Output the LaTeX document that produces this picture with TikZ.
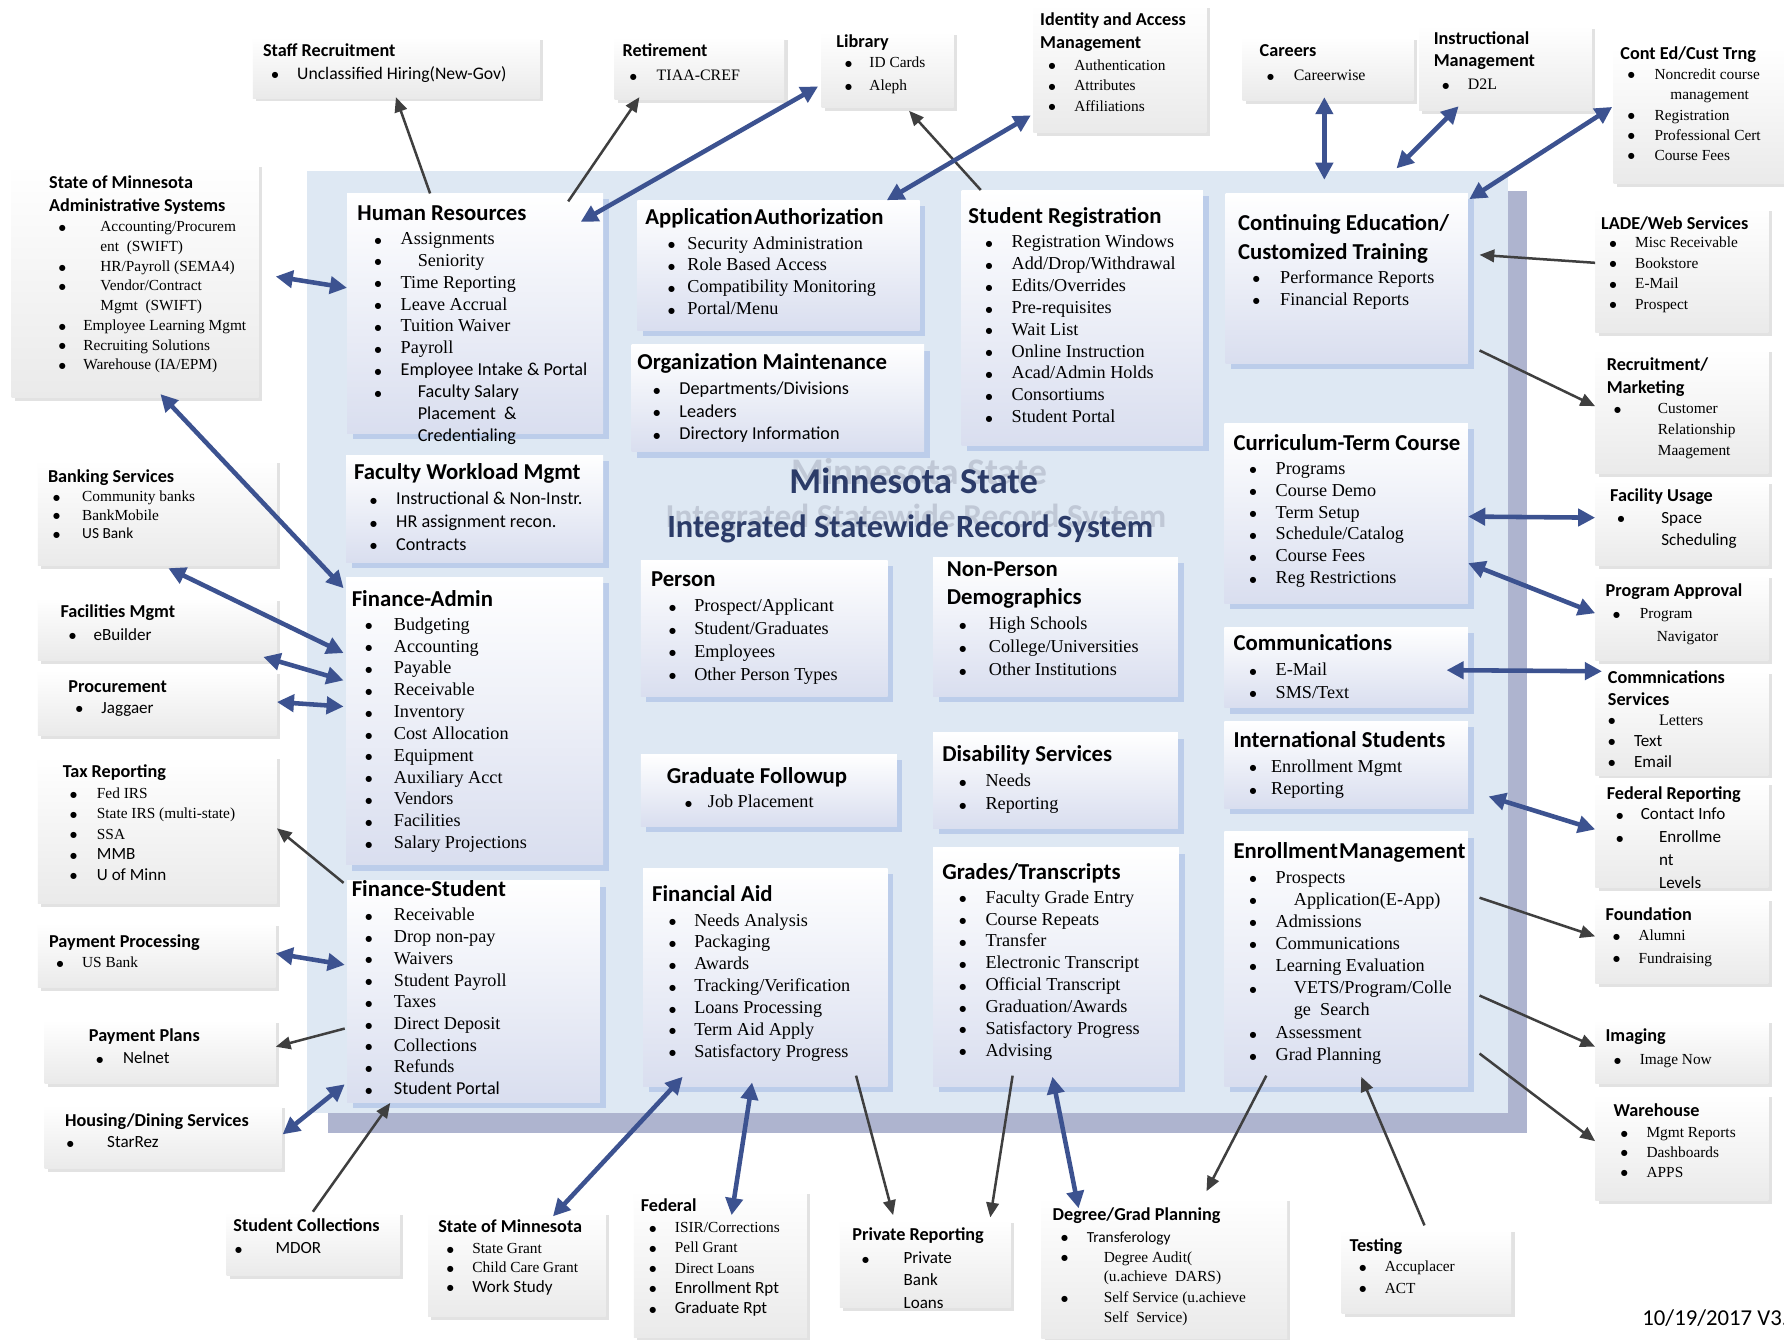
\documentclass[tikz,border=0pt]{standalone}
\usepackage{fontspec}
\setmainfont{Liberation Serif}
\newfontfamily\cbr{Carlito}
\newfontfamily\djv{DejaVu Sans}
\usetikzlibrary{arrows.meta,positioning}
\definecolor{panelblue}{HTML}{DEE8F3}
\definecolor{panelshade}{HTML}{AEB4CF}
\definecolor{boxlav}{HTML}{D9DEEF}
\definecolor{boxshade}{HTML}{BCCDEA}
\definecolor{boxgray}{HTML}{EAEAEA}
\definecolor{grayshade}{HTML}{E2E2E2}
\definecolor{arrnavy}{HTML}{3C5290}
\definecolor{arrgray}{HTML}{3F3F3F}
\definecolor{titlenavy}{HTML}{2B3B68}
\definecolor{titleshade}{HTML}{A3AABA}
\newlength{\bind}\newlength{\btxt}
\newcommand{\bul}[2]{\setlength{\bind}{#1pt}\setlength{\btxt}{#2pt}}
\newcommand{\bdot}{\raisebox{1.2pt}{\djv\fontsize{7}{7}\selectfont ●}}
\newcommand{\blk}[5]{\parbox[t][#2pt][t]{#1pt}{\leftskip=#3pt\rule{0pt}{#4pt}#5}}
\newcommand{\ititle}[1]{{\cbr\bfseries\fontsize{20}{25}\selectfont #1\par}\vspace{2pt}}
\newcommand{\otitle}[2][1]{{\cbr\bfseries\fontsize{16}{20}\selectfont #2\par}\vspace{#1pt}}
\newcommand{\itm}[2][0]{\par\noindent\hspace*{\bind}\makebox[\btxt][l]{\bdot}\hspace*{#1pt}\begin{tabular}[t]{@{}l@{}}#2\end{tabular}\par}
\newcommand{\citm}[2][0]{\par\noindent\hspace*{\bind}\makebox[\btxt][l]{\bdot}\hspace*{#1pt}{\cbr\begin{tabular}[t]{@{}l@{}}#2\end{tabular}}\par}

\begin{document}
\begin{tikzpicture}[x=1pt, y=-1pt,
    ibox/.style={anchor=north west, inner sep=0pt, top color=white, bottom color=boxlav,
      font=\fontsize{16}{19.2}\selectfont,
      preaction={fill=boxshade, transform canvas={shift={(5pt,-5pt)}}}},
    obox/.style={anchor=north west, inner sep=0pt, top color=white, bottom color=boxgray,
      font=\fontsize{14}{18}\selectfont,
      preaction={fill=grayshade, transform canvas={shift={(3pt,-3pt)}}}},
    ga/.style={draw=arrgray, line width=2.2pt, -{Triangle[length=13pt,width=11pt]}},
    na/.style={draw=arrnavy, line width=4pt, {Triangle[length=15pt,width=15pt]}-{Triangle[length=15pt,width=15pt]}}]
    \fill[white] (0,0) rectangle (1568,1177);
    \useasboundingbox (0,0) rectangle (1568,1177);
    \fill[panelshade] (288,168) rectangle (1342,996);
    \fill[panelblue] (270,150) rectangle (1325,978);

    \node[text=titleshade, opacity=.5, scale=1.03, font=\cbr\bfseries\fontsize{32}{36}\selectfont] (titel1s) at (808,414) {Minnesota State};
    \node[text=titleshade, opacity=.5, scale=1.03, font=\cbr\bfseries\fontsize{28.5}{32}\selectfont] (titel2s) at (805,456) {Integrated Statewide Record System};
    \node[text=titlenavy, font=\cbr\bfseries\fontsize{32}{36}\selectfont] (titel1) at (803,423) {Minnesota State};
    \node[text=titlenavy, font=\cbr\bfseries\fontsize{28.5}{32}\selectfont] (titel2) at (800,465) {Integrated Statewide Record System};

    \node[ibox] (hr) at (305,170) {\blk{225}{211}{9}{23.5}{\bul{15}{23}\ititle{Human Resources}\itm{Assignments}\itm[15]{Seniority}\itm{Time Reporting}\itm{Leave Accrual}\itm{Tuition Waiver}\itm{Payroll}\citm{Employee Intake \& Portal}\citm[15]{Faculty Salary\\Placement~ \&\\Credentialing}}};
    \node[ibox] (appauth) at (560,176) {\blk{248}{114}{7}{21.5}{\bul{20}{17}\ititle{Application\hspace{1pt}Authorization}\itm{Security Administration}\itm{Role Based Access}\itm{Compatibility Monitoring}\itm{Portal/Menu}}};
    \node[ibox] (stureg) at (845,167) {\blk{212}{224}{6}{29.5}{\bul{15}{23}\ititle{Student Registration}\itm{Registration Windows}\itm{Add/Drop/Withdrawal}\itm{Edits/Overrides}\itm{Pre-requisites}\itm{Wait List}\itm{Online Instruction}\itm{Acad/Admin Holds}\itm{Consortiums}\itm{Student Portal}}};
    \node[ibox] (conted) at (1077,170) {\blk{213}{149}{11}{32.5}{\bul{13}{24}\ititle{Continuing Education/\\Customized Training}\itm{Performance Reports}\itm{Financial Reports}}};
    \node[ibox, font=\fontsize{16}{20}\selectfont] (orgmaint) at (555,303) {\blk{257}{94}{5}{21.5}{\bul{14}{23}\ititle{Organization Maintenance}\citm{Departments/Divisions}\citm{Leaders}\citm{Directory Information}}};
    \node[ibox, font=\fontsize{16}{20}\selectfont] (fwm) at (304,400) {\blk{226}{94}{7}{21.5}{\bul{14}{23}\ititle{Faculty Workload Mgmt}\citm{Instructional \& Non-Instr.}\citm{HR assignment recon.}\citm{Contracts}}};
    \node[ibox] (curr) at (1076,372) {\blk{214}{158}{8}{23.5}{\bul{14}{23}\ititle{Curriculum-Term Course}\itm{Programs}\itm{Course Demo}\itm{Term Setup}\itm{Schedule/Catalog}\itm{Course Fees}\itm{Reg Restrictions}}};
    \node[ibox, font=\fontsize{16}{20}\selectfont] (person) at (563,492) {\blk{217}{120}{9}{23.5}{\bul{16}{22}\ititle{Person}\itm{Prospect/Applicant}\itm{Student/Graduates}\itm{Employees}\itm{Other Person Types}}};
    \node[ibox, font=\fontsize{16}{20}\selectfont] (nonperson) at (820,490) {\blk{215}{122}{12}{16.5}{\bul{11}{26}\ititle{Non-Person\\Demographics}\itm{High Schools}\itm{College/Universities}\itm{Other Institutions}}};
    \node[ibox] (finadmin) at (304,507) {\blk{226}{253}{5}{25.5}{\bul{12}{25}\ititle{Finance-Admin}\itm{Budgeting}\itm{Accounting}\itm{Payable}\itm{Receivable}\itm{Inventory}\itm{Cost Allocation}\itm{Equipment}\itm{Auxiliary Acct}\itm{Vendors}\itm{Facilities}\itm{Salary Projections}}};
    \node[ibox, font=\fontsize{16}{20}\selectfont] (comm) at (1076,551) {\blk{214}{71}{8}{20.5}{\bul{14}{23}\ititle{Communications}\itm{E-Mail}\itm{SMS/Text}}};
    \node[ibox, font=\fontsize{16}{20}\selectfont] (intl) at (1076,634) {\blk{214}{76}{8}{22.5}{\bul{14}{19}\ititle{International Students}\itm{Enrollment Mgmt}\itm{Reporting}}};
    \node[ibox] (gradfu) at (563,663) {\blk{225}{63}{23}{25.5}{\bul{16}{20}\ititle{Graduate Followup}\itm{Job Placement}}};
    \node[ibox, font=\fontsize{16}{20}\selectfont] (disab) at (820,644) {\blk{215}{84}{8}{25.5}{\bul{15}{23}\ititle{Disability Services}\itm{Needs}\itm{Reporting}}};
    \node[ibox, font=\fontsize{16}{19.1}\selectfont] (finstu) at (305,774) {\blk{222}{195}{4}{12.5}{\bul{12}{25}\ititle{Finance-Student}\itm{Receivable}\itm{Drop non-pay}\itm{Waivers}\itm{Student Payroll}\itm{Taxes}\itm{Direct Deposit}\itm{Collections}\itm{Refunds}\citm{Student Portal}}};
    \node[ibox] (finaid) at (565,763) {\blk{215}{192}{8}{29.5}{\bul{15}{22}\ititle{Financial Aid}\itm{Needs Analysis}\itm{Packaging}\itm{Awards}\itm{Tracking/Verification}\itm{Loans Processing}\itm{Term Aid Apply}\itm{Satisfactory Progress}}};
    \node[ibox] (grades) at (820,745) {\blk{216}{210}{8}{27.5}{\bul{15}{23}\ititle{Grades/Transcripts}\itm{Faculty Grade Entry}\itm{Course Repeats}\itm{Transfer}\itm{Electronic Transcript}\itm{Official Transcript}\itm{Graduation/Awards}\itm{Satisfactory Progress}\itm{Advising}}};
    \node[ibox, font=\fontsize{16}{19.4}\selectfont] (enroll) at (1076,731) {\blk{214}{224}{8}{23.5}{\bul{14}{23}\ititle{Enrollment\hspace{1pt}Management}\itm{Prospects}\itm[16]{Application(E-App)}\itm{Admissions}\itm{Communications}\itm{Learning Evaluation}\itm[16]{VETS/Program/Colle\\ge~ Search}\itm{Assessment}\itm{Grad Planning}}};

    \node[obox, font=\fontsize{15.5}{18}\selectfont] (staffrec) at (222,32) {\blk{252}{54}{9}{17.5}{\bul{7.5}{22.5}\otitle[2]{Staff Recruitment}\citm{Unclassified Hiring(New-Gov)}}};
    \node[obox] (retire) at (540,32) {\blk{149}{55}{7}{17.5}{\bul{6.5}{23.5}\otitle[3]{Retirement}\itm{TIAA-CREF}}};
    \node[obox, font=\fontsize{13.5}{20}\selectfont] (library) at (722,28) {\blk{116}{66}{13}{13.5}{\bul{7.5}{21.5}\otitle[-2]{Library}\itm{ID Cards}\itm{Aleph}}};
    \node[obox, font=\fontsize{13.5}{18}\selectfont] (idm) at (908,4) {\blk{152}{112}{6}{18.5}{\bul{7.5}{22.5}\otitle{Identity and Access\\Management}\itm{Authentication}\itm{Attributes}\itm{Affiliations}}};
    \node[obox] (careers) at (1092,32) {\blk{150}{56}{15}{17.5}{\bul{6.5}{23.5}\otitle[3]{Careers}\itm{Careerwise}}};
    \node[obox] (instr) at (1247,22) {\blk{152}{75}{13}{16.5}{\bul{7.5}{22.5}\otitle[2]{Instructional\\Management}\itm{D2L}}};
    \node[obox, font=\fontsize{13.5}{17.5}\selectfont] (contcust) at (1418,41) {\blk{150}{120}{6}{11.5}{\bul{6.5}{23.5}\otitle[-0.5]{Cont Ed/Cust Trng}\itm{Noncredit course\\\hspace*{14pt}management}\itm{Registration}\itm{Professional Cert}\itm{Course Fees}}};

    \node[obox, font=\fontsize{13.5}{17}\selectfont] (stateadm) at (10,144) {\blk{217}{205}{33}{21.5}{\bul{8.5}{21.5}\otitle{State of Minnesota\\Administrative Systems}\itm[15]{Accounting/Procurem\\ent~ (SWIFT)}\itm[15]{HR/Payroll (SEMA4)}\itm[15]{Vendor/Contract\\Mgmt~ (SWIFT)}\itm{Employee Learning Mgmt}\itm{Recruiting Solutions}\itm{Warehouse (IA/EPM)}}};
    \node[obox, font=\fontsize{13.5}{16.5}\selectfont] (banking) at (33,404) {\blk{210}{93}{9}{19.5}{\bul{4.5}{25.5}\otitle[0.5]{Banking Services}\itm{Community banks}\itm{BankMobile}\citm{US Bank}}};
    \node[obox, font=\fontsize{15}{18}\selectfont] (facmgmt) at (33,525) {\blk{210}{55}{20}{17.5}{\bul{7.5}{21.5}\otitle[2]{Facilities Mgmt}\citm{eBuilder}}};
    \node[obox, font=\fontsize{15}{18}\selectfont] (procure) at (33,589) {\blk{210}{57}{27}{19.5}{\bul{6.5}{22.5}\otitle[0]{Procurement}\citm{Jaggaer}}};
    \node[obox, font=\fontsize{13.5}{18}\selectfont] (tax) at (33,664) {\blk{210}{130}{22}{19.5}{\bul{6.5}{23.5}\otitle[0]{Tax Reporting}\itm{Fed IRS}\itm{State IRS (multi-state)}\itm{SSA}\citm{\fontsize{15}{18}\selectfont MMB}\citm{\fontsize{15}{18}\selectfont U of Minn}}};
    \node[obox, font=\fontsize{13.5}{18}\selectfont] (payproc) at (33,811) {\blk{209}{57}{10}{21.5}{\bul{6.5}{22.5}\otitle[0]{Payment Processing}\itm{US Bank}}};
    \node[obox, font=\fontsize{15}{18}\selectfont] (payplans) at (39,896) {\blk{203}{56}{39}{19.5}{\bul{6.5}{23.5}\otitle{Payment Plans}\citm{Nelnet}}};
    \node[obox, font=\fontsize{15}{18}\selectfont] (housing) at (39,971) {\blk{208}{56}{18}{18.5}{\bul{1.5}{35.5}\otitle{Housing/Dining Services}\citm{StarRez}}};

    \node[obox, font=\fontsize{15}{18}\selectfont] (stucoll) at (199,1065) {\blk{152}{56}{6}{17.5}{\bul{1.5}{35.5}\otitle{Student Collections}\citm{MDOR}}};
    \node[obox, font=\fontsize{13.5}{17}\selectfont] (statemn) at (376,1065) {\blk{156}{92}{9}{18.5}{\bul{7.5}{22.5}\otitle{State of Minnesota}\itm{State Grant}\itm{Child Care Grant}\citm{\fontsize{15}{17}\selectfont Work Study}}};
    \node[obox, font=\fontsize{13.5}{17.75}\selectfont] (federal) at (557,1046) {\blk{152}{129}{6}{18.5}{\bul{7.5}{22.5}\otitle{Federal}\itm{ISIR/Corrections}\itm{Pell Grant}\itm{Direct Loans}\citm{\fontsize{15}{17.75}\selectfont Enrollment Rpt}\citm{\fontsize{15}{17.75}\selectfont Graduate Rpt}}};
    \node[obox, font=\fontsize{15}{19.5}\selectfont] (privrep) at (738,1072) {\blk{150}{77}{11}{18.5}{\bul{8.5}{36.5}\otitle[0.5]{Private Reporting}\citm{Private\\Bank\\Loans}}};
    \node[obox, font=\fontsize{13.5}{17.5}\selectfont] (degree) at (915,1052) {\blk{216}{124}{10}{20.5}{\bul{7.5}{22.5}\otitle[1.5]{Degree/Grad Planning}\citm{Transferology}\itm[15]{Degree Audit(\\(u.achieve~ DARS)}\itm[15]{Self Service (u.achieve\\Self~ Service)}}};
    \node[obox, font=\fontsize{13.5}{19}\selectfont] (testing) at (1179,1080) {\blk{149}{74}{7}{19.5}{\bul{8.5}{22.5}\otitle[-1]{Testing}\itm{Accuplacer}\itm{ACT}}};
    \node[anchor=base west, font=\cbr\fontsize{20}{24}\selectfont] (datum) at (1440,1165) {10/19/2017 V3.};

    \node[obox, font=\fontsize{13.5}{18}\selectfont] (lade) at (1402,182) {\blk{152}{110}{5}{19.5}{\bul{7.5}{22.5}\otitle[-2]{LADE/Web Services}\itm{Misc Receivable}\itm{Bookstore}\itm{E-Mail}\itm{Prospect}}};
    \node[obox, font=\fontsize{13.5}{18.5}\selectfont] (recruit) at (1402,306) {\blk{152}{110}{10}{19.5}{\bul{6.5}{38.5}\otitle[-0.5]{Recruitment/\\Marketing}\itm{Customer\\Relationship\\Maagement}}};
    \node[obox, font=\fontsize{15}{20}\selectfont] (facuse) at (1402,422) {\blk{152}{75}{13}{18.5}{\bul{6.5}{38.5}\otitle[-1]{Facility Usage}\citm{Space\\Scheduling}}};
    \node[obox, font=\fontsize{13.5}{20}\selectfont] (progappr) at (1402,505) {\blk{152}{75}{9}{19.5}{\bul{6.5}{23.5}\otitle[-1]{Program Approval}\itm{Program\\\hspace*{15pt}Navigator}}};
    \node[obox, font=\fontsize{14}{18.5}\selectfont] (commsvc) at (1402,589) {\blk{152}{92}{11}{9.5}{\bul{0.5}{22.5}\otitle[-1.5]{Commnications\\Services}\itm[22]{Letters}\citm{\fontsize{15}{18.5}\selectfont Text}\citm{\fontsize{15}{18.5}\selectfont Email}}};
    \node[obox, font=\fontsize{15}{20}\selectfont] (fedrep) at (1402,687) {\blk{152}{93}{10}{15.5}{\bul{8.5}{21.5}\otitle[-2]{Federal Reporting}\citm{Contact Info}\citm[16]{Enrollme\\nt\\Levels}}};
    \node[obox, font=\fontsize{13.5}{20}\selectfont] (foundation) at (1402,789) {\blk{152}{75}{9}{19.5}{\bul{6.5}{22.5}\otitle[-2]{Foundation}\itm{Alumni}\itm{Fundraising}}};
    \node[obox, font=\fontsize{13.5}{18}\selectfont] (imaging) at (1402,896) {\blk{152}{56}{9}{19.5}{\bul{7.5}{22.5}\otitle[2]{Imaging}\itm{Image Now}}};
    \node[obox, font=\fontsize{13.5}{17.5}\selectfont] (warehouse) at (1402,961) {\blk{152}{94}{16}{20.5}{\bul{6.5}{22.5}\otitle[0.5]{Warehouse}\itm{Mgmt Reports}\itm{Dashboards}\itm{APPS}}};

    \draw[ga] ([xshift=73,yshift=0]hr.north west) -- ([xshift=126,yshift=1]staffrec.south west);
    \draw[ga] ([xshift=-31,yshift=-7]hr.north east) -- ([xshift=22,yshift=2]retire.south west);
    \draw[ga] ([xshift=17,yshift=0]stureg.north west) -- ([xshift=77,yshift=-3]library.south west);
    \draw[ga] ([yshift=-49]lade.north west) -- ([xshift=10,yshift=-54]conted.north east);
    \draw[ga] ([xshift=10,yshift=-138]conted.north east) -- ([yshift=-51]recruit.north west);
    \draw[ga] ([xshift=-3,yshift=-2]finstu.north west) -- ([yshift=-64]tax.north east);
    \draw[ga] ([xshift=-2,yshift=-130]finstu.north west) -- ([yshift=-24]payplans.north east);
    \draw[ga] ([xshift=76]stucoll.north west) -- ([xshift=38]finstu.south west);
    \draw[ga] ([xshift=-28,yshift=10]finaid.south east) -- ([xshift=47,yshift=4]privrep.north west);
    \draw[ga] ([xshift=70,yshift=10]grades.south west) -- ([xshift=-18,yshift=2]privrep.north east);
    \draw[ga] ([xshift=37,yshift=10]enroll.south west) -- ([xshift=-71,yshift=5]degree.north east);
    \draw[ga] ([xshift=73,yshift=3]testing.north west) -- ([xshift=-94,yshift=9]enroll.south east);
    \draw[ga] ([xshift=10,yshift=-58]enroll.north east) -- ([yshift=-34]foundation.north west);
    \draw[ga] ([xshift=10,yshift=-144]enroll.north east) -- ([yshift=-24]imaging.north west);
    \draw[ga] ([xshift=10,yshift=-195]enroll.north east) -- ([yshift=-42]warehouse.north west);

    \draw[na] ([xshift=-3,yshift=-48]library.north west) -- ([xshift=-20,yshift=-25]hr.north east);
    \draw[na] ([xshift=-2,yshift=15]idm.south west) -- ([xshift=-29,yshift=0]appauth.north east);
    \draw[na] ([xshift=72,yshift=3]careers.south west) -- ([xshift=87,yshift=12]conted.north west);
    \draw[na] ([xshift=35,yshift=4]instr.south west) -- ([xshift=-63,yshift=22]conted.north east);
    \draw[na] ([xshift=-1,yshift=-53]contcust.north west) -- ([xshift=1,yshift=-5]conted.north east);
    \draw[na] ([xshift=15,yshift=-99]stateadm.north east) -- ([xshift=0,yshift=-83]hr.north west);
    \draw[na] ([xshift=131,yshift=3]stateadm.south west) -- ([xshift=-2,yshift=-10]finadmin.north west);
    \draw[na] ([xshift=115,yshift=-2]banking.south west) -- ([xshift=-2,yshift=-67]finadmin.north west);
    \draw[na] ([xshift=-12,yshift=3]facmgmt.south east) -- ([xshift=-2,yshift=-91]finadmin.north west);
    \draw[na] ([yshift=-28]procure.north east) -- ([xshift=-2,yshift=-114]finadmin.north west);
    \draw[na] ([yshift=-27]payproc.north east) -- ([xshift=-2,yshift=-74]finstu.north west);
    \draw[na] ([xshift=1,yshift=-26]housing.north east) -- ([xshift=-2,yshift=-179]finstu.north west);
    \draw[na] ([xshift=110,yshift=-4]statemn.north west) -- ([xshift=35,yshift=9]finaid.south west);
    \draw[na] ([xshift=86,yshift=-22]federal.north west) -- ([xshift=96,yshift=4]finaid.south west);
    \draw[na] ([xshift=33,yshift=-10]degree.north west) -- ([xshift=105,yshift=9]grades.south west);
    \draw[na] ([yshift=-82]curr.north east) -- ([yshift=-33]facuse.north west);
    \draw[na] ([yshift=-123]curr.north east) -- ([yshift=-34]progappr.north west);
    \draw[na] ([xshift=-19,yshift=-38]comm.north east) -- ([xshift=6,yshift=-1]commsvc.north west);
    \draw[na] ([xshift=18,yshift=-66]intl.north east) -- ([yshift=-42]fedrep.north west);
\end{tikzpicture}
\end{document}
